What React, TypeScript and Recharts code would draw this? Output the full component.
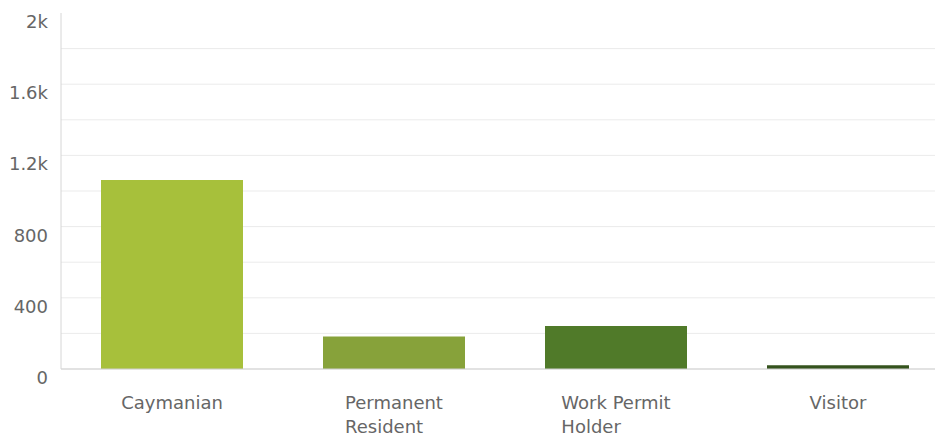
import React from "react";
import { BarChart, Bar, XAxis, YAxis, CartesianGrid, Cell } from "recharts";

const categories = ["Caymanian", "Permanent Resident", "Work Permit Holder", "Visitor"];
const labelLines = [["Caymanian"], ["Permanent", "Resident"], ["Work Permit", "Holder"], ["Visitor"]];
const counts = [1062, 182, 242, 21];
const barColors = ["#A7C03B", "#87A23A", "#507A29", "#34531D"];
const yTicks = [0, 400, 800, 1200, 1600, 2000];
const gridValues = [0, 200, 400, 600, 800, 1000, 1200, 1400, 1600, 1800];

const data = categories.map((c, i) => ({ name: c, value: counts[i], idx: i }));

const FONT = "DejaVu Sans";
const FS = 18;

let ctx: CanvasRenderingContext2D | null = null;
function measure(t: string): number {
  if (!ctx) {
    const c = document.createElement("canvas");
    ctx = c.getContext("2d");
  }
  if (!ctx) return t.length * FS * 0.6;
  ctx.font = `${FS}px "${FONT}"`;
  return ctx.measureText(t).width;
}

const fmt = (v: number) => (v >= 1000 ? `${v / 1000}k` : `${v}`);

const YTick = (props: any) => {
  const { x, y, payload } = props;
  return (
    <text x={x} y={y} dy={15} textAnchor="end" fill="#666" fontSize={FS} fontFamily={FONT}>
      {fmt(payload.value)}
    </text>
  );
};

const XTick = (props: any) => {
  const { x, y, payload } = props;
  const idx = categories.indexOf(payload.value);
  const lines = idx >= 0 ? labelLines[idx] : [String(payload.value)];
  const w = Math.max(...lines.map(measure));
  const left = x - w / 2;
  return (
    <text x={left} y={y} textAnchor="start" fill="#666" fontSize={FS} fontFamily={FONT}>
      {lines.map((l, i) => (
        <tspan key={i} x={left} y={y + 40 + i * 24}>
          {l}
        </tspan>
      ))}
    </text>
  );
};

export default function App() {
  return (
    <div style={{ position: "absolute", left: 0, top: 0, width: 935, height: 439, overflow: "hidden", background: "#fff" }}>
      <BarChart
        width={949}
        height={439}
        data={data}
        margin={{ top: 13, right: 0, left: 0, bottom: 10 }}
      >
        <CartesianGrid
          vertical={false}
          stroke="#ebebeb"
          horizontalValues={gridValues}
        />
        <XAxis
          dataKey="name"
          height={60}
          tickLine={false}
          tickSize={0}
          tickMargin={0}
          axisLine={{ stroke: "#cfcfcf" }}
          tick={<XTick />}
          interval={0}
        />
        <YAxis
          width={61}
          domain={[0, 2000]}
          ticks={yTicks}
          tickLine={false}
          tickSize={0}
          tickMargin={13}
          axisLine={{ stroke: "#d6d6d6" }}
          tick={<YTick />}
          interval={0}
        />
        <Bar dataKey="value" barSize={142} isAnimationActive={false}>
          {data.map((d, i) => (
            <Cell key={d.name} fill={barColors[i]} />
          ))}
        </Bar>
      </BarChart>
    </div>
  );
}
